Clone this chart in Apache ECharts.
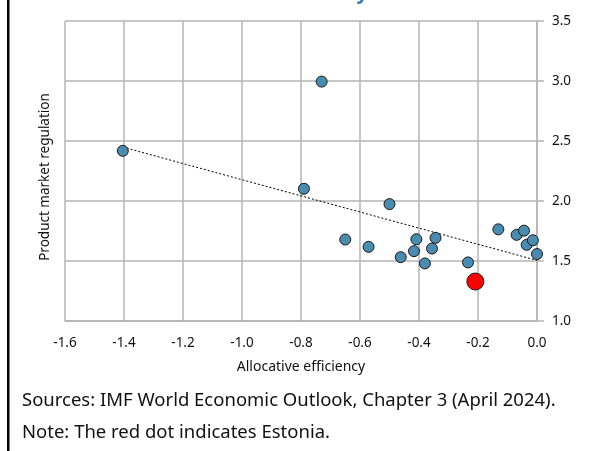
<!DOCTYPE html>
<html>
<head>
<meta charset="utf-8">
<script src="https://cdn.jsdelivr.net/npm/echarts@6/dist/echarts.min.js"></script>
<style>html,body{margin:0;padding:0;background:#fff;}#chart{width:602px;height:451px;}</style>
</head>
<body>
<div id="chart"></div>
<script>
// Allocative efficiency (x) vs product market regulation (y)
var otherX = [-1.404, -0.730, -0.790, -0.500, -0.650, -0.571, -0.409, -0.344, -0.417, -0.356, -0.462, -0.380, -0.234, -0.131, -0.069, -0.044, -0.035, -0.014, 0.000];
var otherY = [2.418, 2.995, 2.102, 1.974, 1.679, 1.618, 1.681, 1.693, 1.582, 1.604, 1.532, 1.480, 1.488, 1.764, 1.718, 1.753, 1.635, 1.673, 1.558];
var estoniaX = [-0.209];
var estoniaY = [1.329];
var trendX = [-1.404, 0.0];
var trendY = [2.449, 1.505];
var xTicks = [-1.6, -1.4, -1.2, -1.0, -0.8, -0.6, -0.4, -0.2, 0.0];
var yTicks = [1.0, 1.5, 2.0, 2.5, 3.0, 3.5];
var xName = 'Allocative efficiency';
var yName = 'Product market regulation';
var titleText = 'Allocative efficiency';
var sourceText = 'Sources: IMF World Economic Outlook, Chapter 3 (April 2024).';
var noteText = 'Note: The red dot indicates Estonia.';

function zip(a, b) { return a.map(function (v, i) { return [v, b[i]]; }); }

var FONT = 'Noto Sans';
var chart = echarts.init(document.getElementById('chart'), null, { renderer: 'canvas' });
chart.setOption({
  animation: false,
  backgroundColor: '#ffffff',
  textStyle: { fontFamily: FONT },
  grid: { left: 65, right: 65, top: 21, height: 300, containLabel: false },
  xAxis: {
    type: 'value',
    min: xTicks[0], max: xTicks[xTicks.length - 1], interval: 0.2,
    name: xName, nameLocation: 'middle', nameGap: 39,
    nameTextStyle: { fontSize: 14, color: '#111', fontFamily: FONT, verticalAlign: 'top' },
    axisLine: { show: true, lineStyle: { color: '#b4b4b4', width: 1.5 } },
    axisTick: { show: false },
    axisLabel: { fontSize: 13.5, color: '#111', margin: 15, fontFamily: FONT,
      formatter: function (v) { return v.toFixed(1); } },
    splitLine: { show: true, lineStyle: { color: '#b4b4b4', width: 1.5 } }
  },
  yAxis: {
    type: 'value', position: 'right',
    min: yTicks[0], max: yTicks[yTicks.length - 1], interval: 0.5,
    axisLine: { show: true, lineStyle: { color: '#b4b4b4', width: 1.5 } },
    axisTick: { show: true, inside: false, length: 7, lineStyle: { color: '#b4b4b4', width: 1.5 } },
    axisLabel: { fontSize: 13.5, color: '#111', margin: 15, fontFamily: FONT,
      formatter: function (v) { return v.toFixed(1); } },
    splitLine: { show: true, lineStyle: { color: '#b4b4b4', width: 1.5 } }
  },
  series: [
    {
      type: 'line', data: zip(trendX, trendY), symbol: 'none', z: 2,
      lineStyle: { color: '#000', width: 1, type: [2, 2] }
    },
    {
      type: 'scatter', data: zip(otherX, otherY), symbolSize: 11, z: 3,
      itemStyle: { color: '#4a8bb0', borderColor: '#1a1a1a', borderWidth: 1, opacity: 1 }
    },
    {
      type: 'scatter', data: zip(estoniaX, estoniaY), symbolSize: 17, z: 4,
      itemStyle: { color: '#ff0000', borderColor: '#1a1a1a', borderWidth: 1, opacity: 1 }
    }
  ],
  graphic: [
    { type: 'rect', left: 7, top: 0, shape: { width: 2.5, height: 451 }, style: { fill: '#000' } },
    { type: 'text', x: 45, y: 177, rotation: Math.PI / 2,
      style: { text: yName, fill: '#111', font: '13.5px "' + FONT + '"', align: 'center', verticalAlign: 'middle' } },
    { type: 'text', x: 368, y: 3,
      style: { text: titleText, fill: '#3a7ab8', font: 'bold 20px "' + FONT + '"', align: 'right', verticalAlign: 'bottom' } },
    { type: 'text', x: 22, y: 401,
      style: { text: sourceText, fill: '#111', font: '18.5px "' + FONT + '"', align: 'left', verticalAlign: 'middle' } },
    { type: 'text', x: 22, y: 433,
      style: { text: noteText, fill: '#111', font: '18.5px "' + FONT + '"', align: 'left', verticalAlign: 'middle' } }
  ]
});
</script>
</body>
</html>
